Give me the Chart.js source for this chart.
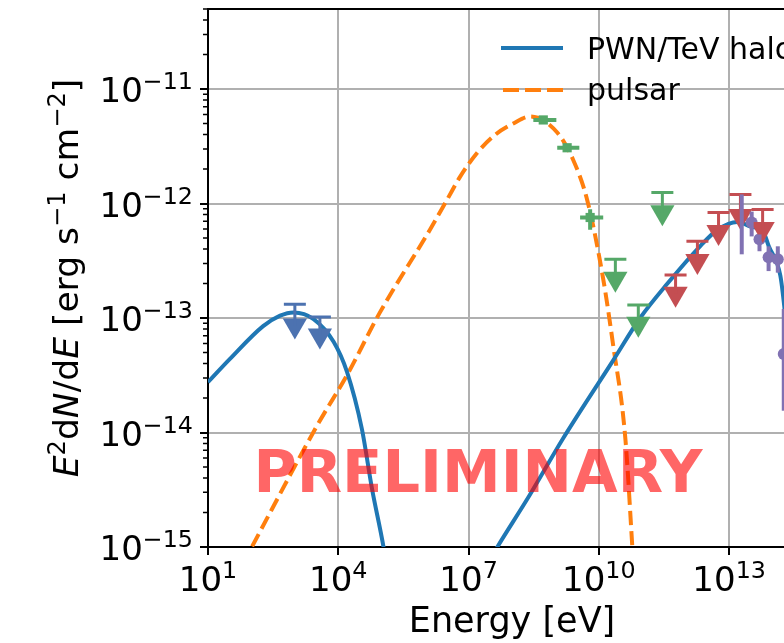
<!DOCTYPE html>
<html>
<head>
<meta charset="utf-8">
<script src="https://cdn.jsdelivr.net/npm/chart.js@4.4.1/dist/chart.umd.min.js"></script>
<style>
  html, body { margin: 0; padding: 0; background: #fff; overflow: hidden; width: 784px; height: 643px; }
  #wrap { width: 840px; height: 643px; }
</style>
</head>
<body>
<div id="wrap"><canvas id="sed" width="840" height="643"></canvas></div>
<script>
// ---- model curves ----
const synE = [10, 31.6, 186, 457, 933, 2.7e3, 7.8e3, 1.58e4, 3.5e4, 6.0e4, 1.1e5, 1.6e5];
const synF = [2.75e-14, 4.37e-14, 8.5e-14, 1.05e-13, 1.12e-13, 9.8e-14, 6.2e-14, 3.4e-14, 1.07e-14, 3.2e-15, 1.0e-15, 4.0e-16];

const icE = [3.2e7, 4.6e7, 2.5e8, 1.51e9, 2.14e10, 8.9e10, 3.8e11, 2.19e12, 5.4e12, 1.55e13, 3.1e13, 6.2e13, 8.1e13, 1.51e14, 1.86e14, 2.8e14, 4.5e14, 6.3e14];
const icF = [7.9e-16, 1.0e-15, 2.8e-15, 8.9e-15, 4.27e-14, 1.0e-13, 2.0e-13, 4.27e-13, 5.9e-13, 6.9e-13, 6.3e-13, 5.6e-13, 4.27e-13, 2.34e-13, 1.26e-13, 2.5e-14, 2.5e-15, 3.2e-16];

const psrE = [63, 102, 3.47e3, 1.58e4, 9.1e4, 1.29e6, 3.16e6, 6.3e6, 1.55e7, 4.07e7, 1.07e8, 2.63e8, 1.1e9, 2.57e9, 5.4e9, 1.26e10, 2.14e10, 4.07e10, 5.9e10, 7.1e10];
const psrF = [7.1e-16, 1.0e-15, 1.2e-14, 3.16e-14, 1.12e-13, 5.9e-13, 1.07e-12, 1.7e-12, 2.75e-12, 3.98e-12, 5.0e-12, 5.75e-12, 4.17e-12, 2.4e-12, 1.07e-12, 2.19e-13, 5.75e-14, 8.9e-15, 1.0e-15, 3.2e-16];

// ---- measured points ----
const xrayUlE = [1.0e3, 3.77e3];
const xrayUlF = [8.6e-14, 7.05e-14];
const xrayUlCap = [1.32e-13, 1.02e-13];

const fermiE = [5.25e8, 1.86e9, 6.3e9];
const fermiF = [5.37e-12, 3.07e-12, 7.55e-13];
const fermiELo = [3.1e8, 1.1e9, 3.7e9];
const fermiEHi = [1.05e9, 3.55e9, 1.26e10];
const fermiFLo = [5.0e-12, 2.85e-12, 5.9e-13];
const fermiFHi = [5.75e-12, 3.3e-12, 8.9e-13];

const fermiUlE = [2.4e10, 8.1e10, 2.9e11];
const fermiUlF = [2.2e-13, 8.9e-14, 8.4e-13];
const fermiUlCap = [3.26e-13, 1.30e-13, 1.25e-12];

const tevUlE = [5.84e11, 1.86e12, 5.7e12, 1.82e13, 5.9e13];
const tevUlF = [1.63e-13, 3.15e-13, 5.63e-13, 7.78e-13, 6.0e-13];
const tevUlCap = [2.37e-13, 4.68e-13, 8.36e-13, 1.2e-12, 8.87e-13];

const uheE = [1.95e13, 3.3e13, 5.0e13, 8.1e13, 1.32e14, 1.81e14];
const uheF = [7.7e-13, 6.84e-13, 4.87e-13, 3.39e-13, 3.26e-13, 4.86e-14];
const uheFLo = [3.6e-13, 5.16e-13, 3.83e-13, 2.57e-13, 2.49e-13, 1.55e-14];
const uheFHi = [1.2e-12, 8.5e-13, 5.37e-13, 4.23e-13, 4.23e-13, 1.2e-13];

const X_TICKS = [1e1, 1e4, 1e7, 1e10, 1e13];
const Y_TICKS = [1e-15, 1e-14, 1e-13, 1e-12, 1e-11];
const X_MIN = 1e1, X_MAX = 1e15;
const Y_MIN = 1e-15, Y_MAX = 5e-11;

const COLORS = {
  halo: '#1f77b4',
  pulsar: '#ff7f0e',
  xray: '#4c72b0',
  fermi: '#55a868',
  tev: '#c44e52',
  uhe: '#8172b3'
};
const FONT = '"DejaVu Sans", "Liberation Sans", sans-serif';

const pts = (xs, ys) => xs.map((x, i) => ({ x, y: ys[i] }));

function curve(label, xs, ys, color, dash) {
  return {
    label, data: pts(xs, ys), showLine: true, borderColor: color, borderWidth: 4,
    borderDash: dash || [], pointRadius: 0, cubicInterpolationMode: 'monotone', order: 10
  };
}
function markers(xs, ys, color, style, radius, rotation) {
  return {
    data: pts(xs, ys), showLine: false, pointStyle: style, pointRadius: radius,
    pointRotation: rotation || 0, backgroundColor: color, borderColor: color,
    pointBorderWidth: 0, order: 0
  };
}

// ---- mathtext-like text helpers ----
function pieceFont(p, size) {
  const s = p.sup ? size * 0.7 : size;
  return (p.it ? 'italic ' : '') + s + 'px ' + FONT;
}
function piecesWidth(ctx, pieces, size) {
  let w = 0;
  pieces.forEach(p => { ctx.font = pieceFont(p, size); w += ctx.measureText(p.t).width; });
  return w;
}
function drawPieces(ctx, pieces, x, y, size) {
  ctx.textBaseline = 'alphabetic';
  ctx.textAlign = 'left';
  let cx = x;
  pieces.forEach(p => {
    ctx.font = pieceFont(p, size);
    ctx.fillText(p.t, cx, p.sup ? y - size * 0.37 : y);
    cx += ctx.measureText(p.t).width;
  });
}
function powPieces(v) {
  const e = Math.round(Math.log10(v));
  return [{ t: '10' }, { t: e < 0 ? '\u2212' + Math.abs(e) : String(e), sup: true }];
}

// ---- decorations: frame, minor ticks, labels, legend, error bars, watermark ----
const decorPlugin = {
  id: 'decor',
  afterDraw(chart) {
    const { ctx, chartArea: a, scales: { x, y } } = chart;
    ctx.save();

    // error bars and caps
    ctx.lineCap = 'butt';
    function ul(xs, ys, caps, color) {
      ctx.strokeStyle = color;
      ctx.lineWidth = 3;
      xs.forEach((e, i) => {
        const px = x.getPixelForValue(e);
        const pc = y.getPixelForValue(caps[i]);
        const pv = y.getPixelForValue(ys[i]);
        ctx.beginPath();
        ctx.moveTo(px, pc); ctx.lineTo(px, pv);
        ctx.moveTo(px - 11, pc); ctx.lineTo(px + 11, pc);
        ctx.stroke();
      });
    }
    ul(xrayUlE, xrayUlF, xrayUlCap, COLORS.xray);
    ul(fermiUlE, fermiUlF, fermiUlCap, COLORS.fermi);
    ul(tevUlE, tevUlF, tevUlCap, COLORS.tev);

    ctx.strokeStyle = COLORS.fermi;
    ctx.lineWidth = 4;
    fermiE.forEach((e, i) => {
      const px = x.getPixelForValue(e), py = y.getPixelForValue(fermiF[i]);
      ctx.beginPath();
      ctx.moveTo(x.getPixelForValue(fermiELo[i]), py); ctx.lineTo(x.getPixelForValue(fermiEHi[i]), py);
      ctx.moveTo(px, y.getPixelForValue(fermiFLo[i])); ctx.lineTo(px, y.getPixelForValue(fermiFHi[i]));
      ctx.stroke();
    });

    ctx.strokeStyle = COLORS.uhe;
    ctx.lineWidth = 4;
    uheE.forEach((e, i) => {
      const px = x.getPixelForValue(e);
      ctx.beginPath();
      ctx.moveTo(px, y.getPixelForValue(uheFLo[i])); ctx.lineTo(px, y.getPixelForValue(uheFHi[i]));
      ctx.stroke();
    });

    // watermark, drawn on top of the data
    ctx.fillStyle = 'rgba(255,0,0,0.6)';
    ctx.font = 'bold 59px ' + FONT;
    ctx.textAlign = 'center';
    ctx.textBaseline = 'alphabetic';
    ctx.fillText('PRELIMINARY', a.left + 270, a.bottom - 55);

    // top / right spines
    ctx.strokeStyle = '#000';
    ctx.lineWidth = 2;
    ctx.beginPath();
    ctx.moveTo(a.left - 1, a.top); ctx.lineTo(a.right, a.top); ctx.lineTo(a.right, a.bottom);
    ctx.stroke();

    // minor ticks on y
    ctx.lineWidth = 1.5;
    ctx.beginPath();
    for (let k = -15; k <= -11; k++) {
      for (let m = 2; m <= 9; m++) {
        const v = m * Math.pow(10, k);
        if (v > Y_MAX * 1.0001) continue;
        const py = y.getPixelForValue(v);
        ctx.moveTo(a.left, py); ctx.lineTo(a.left - 5, py);
      }
    }
    ctx.stroke();

    // tick labels
    ctx.fillStyle = '#000';
    const TS = 34;
    X_TICKS.forEach(v => {
      const p = powPieces(v);
      const w = piecesWidth(ctx, p, TS);
      drawPieces(ctx, p, x.getPixelForValue(v) - w / 2, a.bottom + 44, TS);
    });
    Y_TICKS.forEach(v => {
      const p = powPieces(v);
      const w = piecesWidth(ctx, p, TS);
      drawPieces(ctx, p, a.left - 15 - w, y.getPixelForValue(v) + 13, TS);
    });

    // axis titles
    const xt = [{ t: 'Energy [eV]' }];
    const xw = piecesWidth(ctx, xt, 35);
    drawPieces(ctx, xt, (a.left + a.right) / 2 - xw / 2, a.bottom + 85, 35);

    const yt = [
      { t: 'E', it: true }, { t: '2', sup: true }, { t: 'd' }, { t: 'N', it: true },
      { t: '/d' }, { t: 'E', it: true }, { t: ' [erg s' }, { t: '\u22121', sup: true },
      { t: ' cm' }, { t: '\u22122', sup: true }, { t: ']' }
    ];
    const YS = 34.5;
    const yw = piecesWidth(ctx, yt, YS);
    ctx.save();
    ctx.translate(78, (a.top + a.bottom) / 2);
    ctx.rotate(-Math.PI / 2);
    drawPieces(ctx, yt, -yw / 2, 0, YS);
    ctx.restore();

    // legend
    const lx = a.right - 315;
    ctx.lineWidth = 4;
    ctx.strokeStyle = COLORS.halo;
    ctx.beginPath(); ctx.moveTo(lx, a.top + 39); ctx.lineTo(lx + 62, a.top + 39); ctx.stroke();
    ctx.strokeStyle = COLORS.pulsar;
    ctx.setLineDash([16, 6]);
    ctx.beginPath(); ctx.moveTo(lx + 2, a.top + 81); ctx.lineTo(lx + 62, a.top + 81); ctx.stroke();
    ctx.setLineDash([]);
    ctx.font = '30px ' + FONT;
    ctx.textAlign = 'left';
    ctx.fillText('PWN/TeV halo', lx + 86, a.top + 50);
    ctx.fillText('pulsar', lx + 86, a.top + 91);

    ctx.restore();
  }
};

const gridOpts = { color: '#b0b0b0', lineWidth: 2, tickLength: 8, tickColor: '#000', tickWidth: 2 };

new Chart(document.getElementById('sed'), {
  type: 'scatter',
  data: {
    datasets: [
      markers(xrayUlE, xrayUlF, COLORS.xray, 'triangle', 14, 180),
      markers(fermiE, fermiF, COLORS.fermi, 'rect', 6.5),
      markers(fermiUlE, fermiUlF, COLORS.fermi, 'triangle', 14, 180),
      markers(tevUlE, tevUlF, COLORS.tev, 'triangle', 14, 180),
      markers(uheE, uheF, COLORS.uhe, 'circle', 6),
      curve('PWN/TeV halo', synE, synF, COLORS.halo),
      curve('PWN/TeV halo', icE, icF, COLORS.halo),
      curve('pulsar', psrE, psrF, COLORS.pulsar, [14, 6])
    ]
  },
  options: {
    responsive: false,
    animation: false,
    devicePixelRatio: 1,
    layout: { autoPadding: false, padding: { top: 9, right: 24, left: 0, bottom: 0 } },
    plugins: { legend: { display: false }, tooltip: { enabled: false } },
    scales: {
      x: {
        type: 'logarithmic', position: 'bottom', min: X_MIN, max: X_MAX,
        afterBuildTicks: s => { s.ticks = X_TICKS.map(v => ({ value: v })); },
        afterFit: s => { s.height = 96; },
        ticks: { display: false },
        grid: gridOpts,
        border: { color: '#000', width: 2 }
      },
      y: {
        type: 'logarithmic', position: 'left', min: Y_MIN, max: Y_MAX,
        afterBuildTicks: s => { s.ticks = Y_TICKS.map(v => ({ value: v })); },
        afterFit: s => { s.width = 208; },
        ticks: { display: false },
        grid: gridOpts,
        border: { color: '#000', width: 2 }
      }
    }
  },
  plugins: [decorPlugin]
});
</script>
</body>
</html>
